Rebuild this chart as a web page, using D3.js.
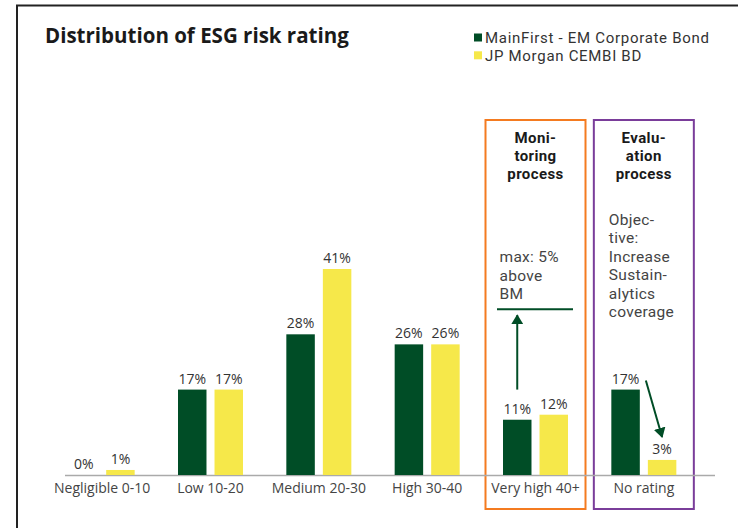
<!DOCTYPE html>
<html>
<head>
<meta charset="utf-8">
<script src="https://cdn.jsdelivr.net/npm/d3@7"></script>
<style>
  body { margin: 0; background: #fff; }
  text { font-family: "Open Sans", Lato, sans-serif; }
  .rb { font-family: Roboto, "Open Sans", sans-serif; }
</style>
</head>
<body>
<script>
var categories = ["Negligible 0-10", "Low 10-20", "Medium 20-30", "High 30-40", "Very high 40+", "No rating"];
var seriesNames = ["MainFirst - EM Corporate Bond", "JP Morgan CEMBI BD"];
var mainFirst = [0, 17, 28, 26, 11, 17];
var cembi = [1, 17, 41, 26, 12, 3];
var colors = ["#004d26", "#f6e84a"];

var w = 738;
var h = 528;
var base = 475;

var svg = d3.select("body").append("svg")
    .attr("width", w)
    .attr("height", h);

// frame (left + top only visible)
svg.append("path")
    .attr("d", "M17," + (h + 5) + "V5.5H" + (w + 5))
    .attr("fill", "none")
    .attr("stroke", "#222")
    .attr("stroke-width", 2);

svg.append("text")
    .attr("x", 45)
    .attr("y", 43)
    .attr("font-size", 20.5)
    .attr("font-weight", "bold")
    .attr("fill", "#1a1a1a")
    .text("Distribution of ESG risk rating");

// legend
var legend = svg.selectAll(".legend")
    .data(seriesNames)
    .enter()
    .append("g")
    .attr("transform", function (d, i) { return "translate(474," + (33.5 + i * 17.8) + ")"; });
legend.append("rect")
    .attr("width", 8)
    .attr("height", 8)
    .attr("fill", function (d, i) { return colors[i]; });
legend.append("text")
    .attr("class", "rb")
    .attr("x", 11)
    .attr("y", 9.5)
    .attr("font-size", 15)
    .attr("letter-spacing", 0.7)
    .attr("fill", "#333")
    .text(function (d) { return d; });

var x = d3.scaleBand()
    .domain(categories)
    .range([48, 698])
    .paddingInner(0.4)
    .paddingOuter(0.2);

var x1 = d3.scaleBand()
    .domain([0, 1])
    .range([0, x.bandwidth()])
    .paddingInner(0.22);

var y = d3.scaleLinear()
    .domain([0, 41])
    .range([base, 269]);

var rows = categories.map(function (c, i) {
    return { cat: c, values: [mainFirst[i], cembi[i]] };
});

// multi-line text block helper
function block(sel, lines, lh) {
    sel.selectAll("tspan")
        .data(lines)
        .enter()
        .append("tspan")
        .attr("x", sel.attr("x"))
        .attr("dy", function (d, i) { return i ? lh : 0; })
        .text(function (d) { return d; });
}

// boxes for the last two categories
var boxes = [
    { cat: "Very high 40+", color: "#f47b20", title: ["Moni-", "toring", "process"] },
    { cat: "No rating", color: "#7a3d9a", title: ["Evalu-", "ation", "process"] }
];
var boxG = svg.selectAll(".box")
    .data(boxes)
    .enter()
    .append("g");
boxG.append("rect")
    .attr("x", function (d) { return x(d.cat) + x.bandwidth() / 2 - 50; })
    .attr("y", 120)
    .attr("width", 100)
    .attr("height", 389)
    .attr("fill", "none")
    .attr("stroke", function (d) { return d.color; })
    .attr("stroke-width", 2);
boxG.each(function (d) {
    var t = d3.select(this).append("text")
        .attr("class", "rb")
        .attr("x", x(d.cat) + x.bandwidth() / 2)
        .attr("y", 143)
        .attr("text-anchor", "middle")
        .attr("font-size", 15)
        .attr("font-weight", "bold")
        .attr("letter-spacing", 0.4)
        .attr("fill", "#1a1a1a");
    block(t, d.title, 18);
});

// axis
svg.append("line")
    .attr("x1", 65)
    .attr("x2", 715)
    .attr("y1", base + 0.5)
    .attr("y2", base + 0.5)
    .attr("stroke", "#aaa")
    .attr("stroke-width", 1.5);

var axis = svg.append("g")
    .attr("transform", "translate(0," + base + ")")
    .call(d3.axisBottom(x).tickSize(0).tickPadding(8));
axis.select(".domain").remove();
axis.selectAll("text")
    .attr("font-family", "'Open Sans', sans-serif")
    .attr("font-size", 14)
    .attr("fill", "#444");

// bars
var groups = svg.selectAll(".grp")
    .data(rows)
    .enter()
    .append("g")
    .attr("transform", function (d) { return "translate(" + x(d.cat) + ",0)"; });

groups.selectAll("rect")
    .data(function (d) { return d.values; })
    .enter()
    .append("rect")
    .attr("x", function (d, i) { return x1(i); })
    .attr("y", function (d) { return y(d); })
    .attr("width", x1.bandwidth())
    .attr("height", function (d) { return base - y(d); })
    .attr("fill", function (d, i) { return colors[i]; });

groups.selectAll(".lbl")
    .data(function (d) { return d.values; })
    .enter()
    .append("text")
    .attr("x", function (d, i) { return x1(i) + x1.bandwidth() / 2; })
    .attr("y", function (d) { return y(d) - 6; })
    .attr("text-anchor", "middle")
    .attr("font-size", 14)
    .attr("fill", "#333")
    .text(function (d) { return d + "%"; });

// annotations
var green = colors[0];
var vhX = x("Very high 40+");
var nrX = x("No rating");

svg.append("defs").append("marker")
    .attr("id", "head")
    .attr("viewBox", "0 0 10 12")
    .attr("refX", 9)
    .attr("refY", 6)
    .attr("markerWidth", 10)
    .attr("markerHeight", 12)
    .attr("markerUnits", "userSpaceOnUse")
    .attr("orient", "auto")
    .append("path")
    .attr("d", "M0,0L10,6L0,12Z")
    .attr("fill", green);

var maxNote = ["max: 5%", "above", "BM"];
var mn = svg.append("text")
    .attr("class", "rb")
    .attr("x", vhX + x.bandwidth() / 2 - 36)
    .attr("y", 262)
    .attr("font-size", 15.5)
    .attr("letter-spacing", 0.3)
    .attr("fill", "#444");
block(mn, maxNote, 18.5);

var limitY = y(33);
svg.append("line")
    .attr("x1", vhX - 6)
    .attr("x2", vhX + 70)
    .attr("y1", limitY)
    .attr("y2", limitY)
    .attr("stroke", green)
    .attr("stroke-width", 2);

var gx = vhX + x1(0) + x1.bandwidth() / 2;
svg.append("line")
    .attr("x1", gx)
    .attr("x2", gx)
    .attr("y1", y(17))
    .attr("y2", limitY + 6)
    .attr("stroke", green)
    .attr("stroke-width", 2)
    .attr("marker-end", "url(#head)");

var objNote = ["Objec-", "tive:", "Increase", "Sustain-", "alytics", "coverage"];
var on = svg.append("text")
    .attr("class", "rb")
    .attr("x", nrX + x.bandwidth() / 2 - 35)
    .attr("y", 225)
    .attr("font-size", 15.5)
    .attr("letter-spacing", 0.3)
    .attr("fill", "#444");
block(on, objNote, 18.4);

svg.append("line")
    .attr("x1", nrX + x1(1) - 2)
    .attr("y1", y(17) - 9)
    .attr("x2", nrX + x1(1) + x1.bandwidth() / 2)
    .attr("y2", y(3) - 23)
    .attr("stroke", green)
    .attr("stroke-width", 2)
    .attr("marker-end", "url(#head)");
</script>
</body>
</html>
